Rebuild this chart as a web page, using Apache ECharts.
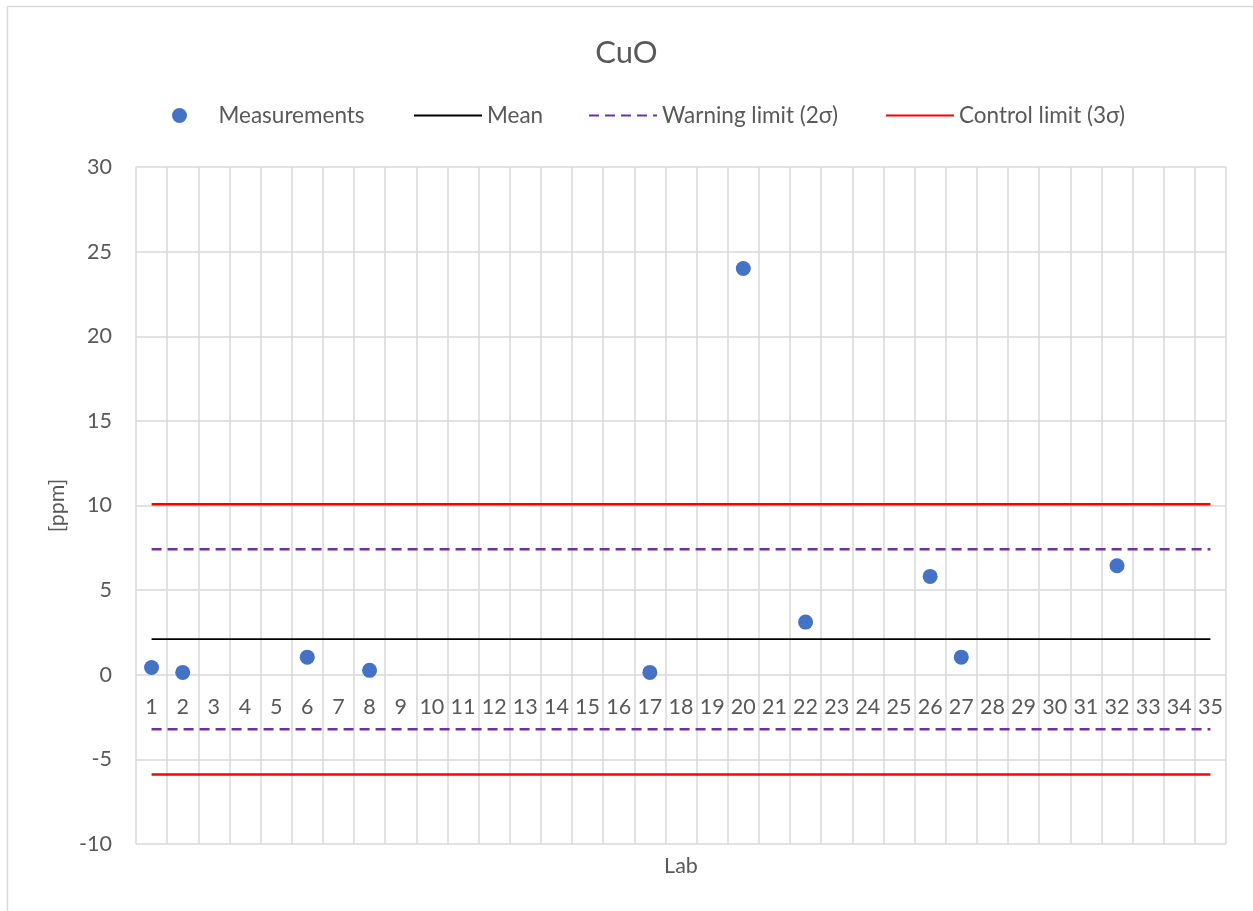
<!DOCTYPE html>
<html>
<head>
<meta charset="utf-8">
<script src="https://cdn.jsdelivr.net/npm/echarts@6/dist/echarts.min.js"></script>
<style>
  html, body { margin: 0; padding: 0; background: #ffffff; }
  #chart { width: 1253px; height: 911px; }
</style>
</head>
<body>
<div id="chart"></div>
<script>
// ---- data ----
const labs = ['1','2','3','4','5','6','7','8','9','10','11','12','13','14','15','16','17','18','19','20','21','22','23','24','25','26','27','28','29','30','31','32','33','34','35'];
const measuredLabs = ['1','2','6','8','17','20','22','26','27','32'];
const measuredValues = [0.43, 0.14, 1.04, 0.26, 0.14, 24.0, 3.11, 5.81, 1.04, 6.44];
const meanValue = 2.10;
const warningUpper = 7.42;
const warningLower = -3.22;
const controlUpper = 10.07;
const controlLower = -5.89;
const yTicks = { min: -10, max: 30, step: 5 };

const FONT = 'Lato';
const TXT = '#595959';
const GRIDC = '#d9d9d9';

const first = labs[0], last = labs[labs.length - 1];
const seg = v => [[first, v], [last, v]];

const chart = echarts.init(document.getElementById('chart'));

const legendBase = {
  top: 104, padding: 0, itemWidth: 68, itemHeight: 15, itemGap: 45,
  textStyle: { color: TXT, fontSize: 22.5, fontFamily: FONT }
};
const hideSym = { opacity: 0 };

chart.setOption({
  animation: false,
  backgroundColor: '#ffffff',
  textStyle: { fontFamily: FONT },
  graphic: [{
    type: 'rect', silent: true,
    shape: { x: 7.5, y: 6.5, width: 1400, height: 1000 },
    style: { fill: 'none', stroke: GRIDC, lineWidth: 1.5 }
  }],
  title: [{
    text: 'CuO', left: 'center', top: 32,
    textStyle: { color: TXT, fontSize: 31, fontWeight: 'normal', fontFamily: FONT }
  }, {
    text: 'Lab', left: 681, top: 855, textAlign: 'center', padding: 0,
    textStyle: { color: TXT, fontSize: 21.5, fontWeight: 'normal', fontFamily: FONT }
  }],
  legend: [
    Object.assign({}, legendBase, { left: 172, data: [{ name: 'Measurements', icon: 'circle' }] }),
    Object.assign({}, legendBase, { left: 413, data: [{ name: 'Mean', itemStyle: hideSym }] }),
    Object.assign({}, legendBase, { left: 588, data: [{ name: 'Warning limit (2σ)', itemStyle: hideSym }] }),
    Object.assign({}, legendBase, { left: 885, data: [{ name: 'Control limit (3σ)', itemStyle: hideSym }] })
  ],
  grid: { left: 136, right: 27, top: 167, bottom: 67, containLabel: false },
  xAxis: {
    type: 'category', data: labs, boundaryGap: true, position: 'bottom', offset: 0,
    axisLine: { show: false, onZero: false },
    axisTick: { show: false },
    axisLabel: { color: TXT, fontSize: 21.5, fontFamily: FONT, margin: 21, interval: 0 },
    splitLine: { show: true, interval: 0, lineStyle: { color: GRIDC, width: 1.5 } }
  },
  yAxis: {
    type: 'value', min: yTicks.min, max: yTicks.max, interval: yTicks.step,
    name: '[ppm]', nameLocation: 'middle', nameGap: 67, nameRotate: 90,
    nameTextStyle: { color: TXT, fontSize: 21.5, fontFamily: FONT },
    axisLine: { show: false }, axisTick: { show: false },
    axisLabel: { color: TXT, fontSize: 21.5, fontFamily: FONT, margin: 24 },
    splitLine: { show: true, lineStyle: { color: GRIDC, width: 1.5 } }
  },
  series: [
    {
      name: 'Measurements', type: 'scatter', symbol: 'circle', symbolSize: 15,
      itemStyle: { color: '#4472C4', opacity: 1 },
      data: measuredLabs.map((l, i) => [l, measuredValues[i]]), z: 5
    },
    {
      name: 'Mean', type: 'line', symbol: 'none', data: seg(meanValue),
      lineStyle: { color: '#000000', width: 1.8 }, itemStyle: { color: '#000000' }
    },
    {
      name: 'Warning limit (2σ)', type: 'line', symbol: 'none', data: seg(warningUpper),
      lineStyle: { color: '#7030A0', width: 2.5, type: [10, 6] }, itemStyle: { color: '#7030A0' }
    },
    {
      name: 'Warning limit (2σ)', type: 'line', symbol: 'none', data: seg(warningLower),
      lineStyle: { color: '#7030A0', width: 2.5, type: [10, 6] }, itemStyle: { color: '#7030A0' }
    },
    {
      name: 'Control limit (3σ)', type: 'line', symbol: 'none', data: seg(controlUpper),
      lineStyle: { color: '#FF0000', width: 2.5 }, itemStyle: { color: '#FF0000' }
    },
    {
      name: 'Control limit (3σ)', type: 'line', symbol: 'none', data: seg(controlLower),
      lineStyle: { color: '#FF0000', width: 2.5 }, itemStyle: { color: '#FF0000' }
    }
  ]
});

// Place the category labels on the y = 0 line (Excel "axis crosses at 0"), using the library's scale.
const yZero = chart.convertToPixel({ yAxisIndex: 0 }, 0);
const yBottom = chart.convertToPixel({ yAxisIndex: 0 }, yTicks.min);
chart.setOption({ xAxis: { offset: yZero - yBottom } });
</script>
</body>
</html>
